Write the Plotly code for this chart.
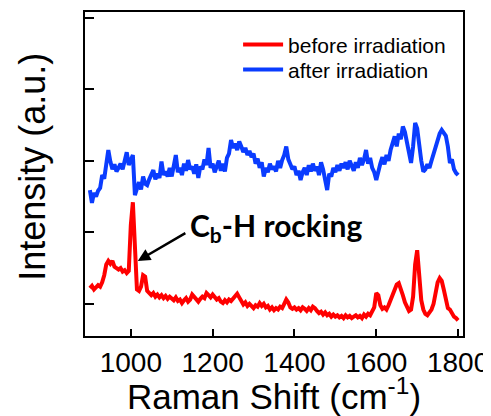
import plotly.graph_objects as go

# Raman shift grid (cm^-1)
shift = [
    900, 905, 910, 915, 920, 925, 930, 935, 940, 945,
    950, 955, 960, 965, 970, 975, 980, 985, 990, 995,
    1000, 1005, 1010, 1015, 1020, 1025, 1030, 1035, 1040, 1045,
    1050, 1055, 1060, 1065, 1070, 1075, 1080, 1085, 1090, 1095,
    1100, 1105, 1110, 1115, 1120, 1125, 1130, 1135, 1140, 1145,
    1150, 1155, 1160, 1165, 1170, 1175, 1180, 1185, 1190, 1195,
    1200, 1205, 1210, 1215, 1220, 1225, 1230, 1235, 1240, 1245,
    1250, 1255, 1260, 1265, 1270, 1275, 1280, 1285, 1290, 1295,
    1300, 1305, 1310, 1315, 1320, 1325, 1330, 1335, 1340, 1345,
    1350, 1355, 1360, 1365, 1370, 1375, 1380, 1385, 1390, 1395,
    1400, 1405, 1410, 1415, 1420, 1425, 1430, 1435, 1440, 1445,
    1450, 1455, 1460, 1465, 1470, 1475, 1480, 1485, 1490, 1495,
    1500, 1505, 1510, 1515, 1520, 1525, 1530, 1535, 1540, 1545,
    1550, 1555, 1560, 1565, 1570, 1575, 1580, 1585, 1590, 1595,
    1600, 1605, 1610, 1615, 1620, 1625, 1630, 1635, 1640, 1645,
    1650, 1655, 1660, 1665, 1670, 1675, 1680, 1685, 1690, 1695,
    1700, 1705, 1710, 1715, 1720, 1725, 1730, 1735, 1740, 1745,
    1750, 1755, 1760, 1765, 1770, 1775, 1780, 1785, 1790, 1795,
    1800,
]

before_irradiation = [
    0.22, 0.25, 0.20, 0.23, 0.26, 0.24, 0.30, 0.40, 0.55, 0.60,
    0.56, 0.60, 0.52, 0.50, 0.48, 0.50, 0.45, 0.47, 0.43, 0.46,
    1.10, 1.42, 0.70, 0.20, 0.18, 0.24, 0.40, 0.38, 0.18, 0.14,
    0.12, 0.15, 0.10, 0.13, 0.09, 0.12, 0.08, 0.11, 0.07, 0.10,
    0.08, 0.05, 0.09, 0.04, 0.06, 0.01, 0.05, 0.08, 0.03, 0.06,
    0.13, 0.10, 0.06, 0.03, 0.07, 0.10, 0.08, 0.15, 0.12, 0.09,
    0.13, 0.10, 0.06, 0.08, 0.03, 0.01, 0.05, 0.02, 0.06, 0.04,
    0.07, 0.10, 0.14, 0.09, 0.03, -0.01, 0.02, -0.03, 0.00, -0.04,
    -0.06, -0.02, -0.04, 0.01, -0.03, 0.00, -0.05, -0.03, -0.08, -0.05,
    -0.09, -0.06, -0.08, -0.04, -0.06, 0.00, 0.06, 0.02, -0.05, -0.07,
    -0.05, -0.08, -0.06, -0.09, -0.05, -0.07, -0.10, -0.06, -0.09, -0.04,
    -0.06, -0.10, -0.13, -0.11, -0.15, -0.12, -0.16, -0.14, -0.18, -0.15,
    -0.18, -0.16, -0.19, -0.17, -0.20, -0.16, -0.19, -0.17, -0.20, -0.18,
    -0.16, -0.19, -0.17, -0.20, -0.15, -0.18, -0.14, -0.16, -0.10, -0.05,
    0.15, 0.12, -0.02, -0.07, -0.05, -0.08, -0.02, 0.05, 0.14, 0.22,
    0.27, 0.29, 0.22, 0.12, 0.02, -0.06, -0.10, -0.08, 0.10, 0.55,
    0.75, 0.40, 0.05, -0.08, -0.14, -0.16, -0.12, -0.08, 0.00, 0.15,
    0.30, 0.36, 0.32, 0.20, 0.05, -0.06, -0.08, -0.14, -0.18, -0.20,
    -0.23,
]

after_irradiation = [
    1.59, 1.41, 1.55, 1.50, 1.58, 1.62, 1.80, 1.75, 1.95, 2.15,
    1.99, 1.88, 1.95, 1.85, 1.90, 1.96, 1.88, 2.02, 2.12, 1.94,
    2.00, 2.08, 1.52, 1.62, 1.70, 1.60, 1.78, 1.68, 1.66, 1.74,
    1.80, 1.87, 1.74, 1.82, 1.76, 1.99, 1.80, 1.85, 1.78, 1.90,
    1.78, 1.92, 2.08, 1.84, 1.90, 1.80, 1.96, 1.86, 2.01, 1.88,
    1.92, 1.82, 1.95, 1.76, 1.92, 1.88, 2.02, 1.94, 2.18, 1.90,
    1.96, 1.84, 1.92, 2.00, 1.86, 1.96, 1.85, 2.04, 2.10, 2.29,
    2.18, 2.24, 2.15, 2.27, 2.20, 2.12, 2.18, 2.08, 2.14, 2.05,
    2.10, 1.96, 2.03, 1.90, 1.98, 1.78, 1.90, 1.84, 1.96, 1.88,
    1.92, 1.85, 2.00, 1.90, 2.01, 2.08, 2.20, 2.02, 1.95, 1.88,
    1.92, 1.80, 1.86, 1.73, 1.84, 1.90, 1.80, 1.94, 1.85, 1.96,
    1.86, 1.92, 1.80, 1.98, 1.88, 1.76, 1.59, 1.82, 1.78, 1.90,
    1.84, 1.94, 1.86, 1.96, 1.90, 1.98, 1.88, 2.00, 1.93, 1.86,
    1.98, 1.90, 2.04, 1.94, 2.02, 2.15, 1.96, 2.04, 1.90, 1.84,
    1.73, 1.88, 1.96, 2.05, 1.95, 2.08, 2.00, 2.15, 2.25, 2.34,
    2.20, 2.38, 2.30, 2.48, 2.40, 2.25, 2.12, 1.97, 2.20, 2.53,
    2.45, 2.20, 2.00, 1.85, 1.88, 1.95, 1.90, 2.00, 2.10, 2.22,
    2.30, 2.38, 2.43, 2.40, 2.35, 2.20, 1.97, 2.02, 1.88, 1.83,
    1.80,
]

x_tickvals = [1000, 1200, 1400, 1600, 1800]
y_tickvals = [0, 1, 2, 3, 4]

fig = go.Figure()
fig.add_trace(go.Scatter(x=shift, y=before_irradiation, mode="lines",
                         name="before irradiation", legend="legend",
                         line=dict(color="#ff0000", width=4)))
fig.add_trace(go.Scatter(x=shift, y=after_irradiation, mode="lines",
                         name="after irradiation", legend="legend2",
                         line=dict(color="#0a3cff", width=4)))

# arrow
fig.add_annotation(x=1017, y=0.60, ax=1137, ay=1.00, xref="x", yref="y",
                   axref="x", ayref="y", text="", showarrow=True,
                   arrowhead=2, arrowsize=1, arrowwidth=2.5, arrowcolor="black")
# label
fig.add_annotation(x=1140, y=1.08, xref="x", yref="y", xanchor="left",
                   yanchor="middle", showarrow=False,
                   text="<b>C<sub>b</sub>-H rocking</b>",
                   font=dict(family="Lato, Arial, sans-serif", size=30, color="black"))
# y-axis title (rotated text so it can sit close to the page edge)
fig.add_annotation(x=-0.1376, y=0.522, xref="paper", yref="paper",
                   xanchor="center", yanchor="middle", showarrow=False,
                   textangle=-90, text="Intensity (a.u.)",
                   font=dict(size=36, color="black"))

legend_style = dict(xanchor="left", yanchor="top", bgcolor="rgba(0,0,0,0)",
                    font=dict(size=21), itemwidth=40)

# page has an 8px body margin; figure sized so the plot lands where the reference has it
fig.update_layout(
    width=483, height=408,
    margin=dict(l=77, r=28, t=4, b=80),
    paper_bgcolor="white", plot_bgcolor="white",
    font=dict(family="Liberation Sans, Arial, sans-serif", color="black"),
    showlegend=True,
    legend=dict(x=0.405, y=0.962, **legend_style),
    legend2=dict(x=0.405, y=0.885, **legend_style),
    xaxis=dict(range=[888, 1812], tickvals=x_tickvals, automargin=False,
               ticks="inside", ticklen=7, tickwidth=2, tickcolor="black",
               showline=True, linecolor="black", linewidth=2, mirror=True,
               showgrid=False, zeroline=False,
               tickfont=dict(size=28),
               title=dict(text="Raman Shift (cm<sup>-1</sup>)", font=dict(size=35), standoff=4)),
    yaxis=dict(range=[-0.45, 4.08], tickvals=y_tickvals, showticklabels=False,
               automargin=False,
               ticks="inside", ticklen=9, tickwidth=2, tickcolor="black",
               showline=True, linecolor="black", linewidth=2, mirror=True,
               showgrid=False, zeroline=False),
)

fig.write_html("out.html")
